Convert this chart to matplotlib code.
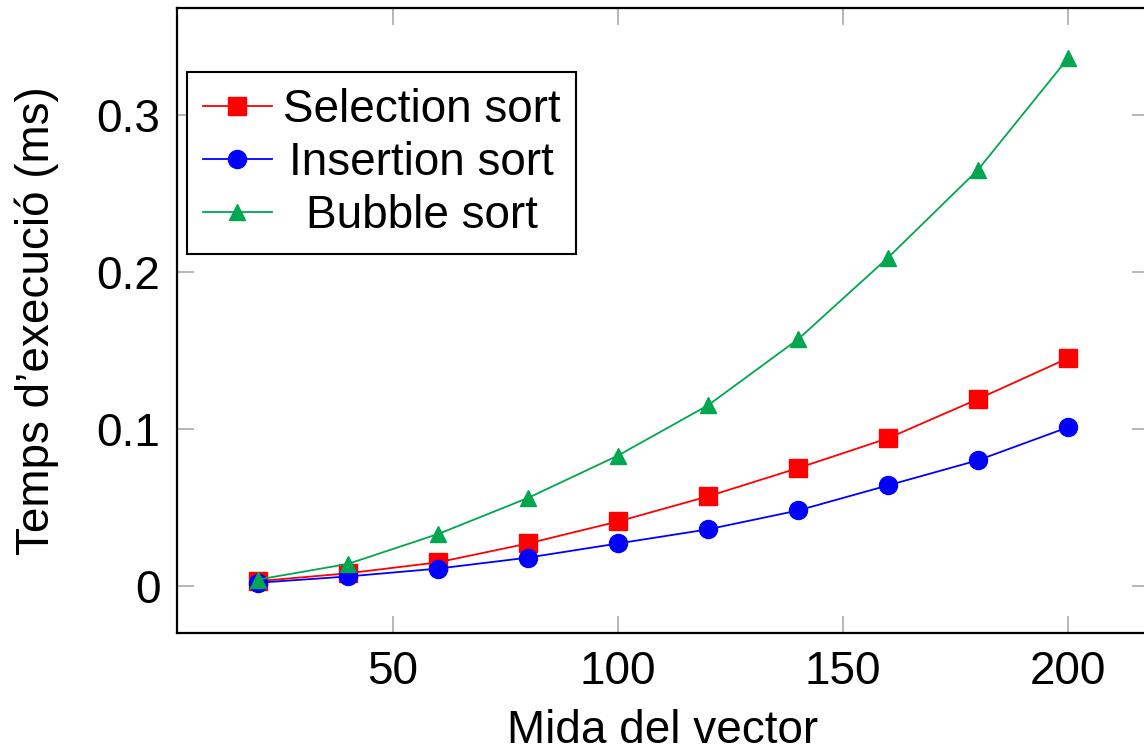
import matplotlib.pyplot as plt
from matplotlib.ticker import FuncFormatter

plt.rcParams['font.family'] = ['Liberation Sans', 'DejaVu Sans']

# Mida del vector
sizes = [20, 40, 60, 80, 100, 120, 140, 160, 180, 200]
selection = [0.003, 0.008, 0.015, 0.027, 0.041, 0.057, 0.075, 0.094, 0.119, 0.145]
insertion = [0.002, 0.006, 0.011, 0.018, 0.027, 0.036, 0.048, 0.064, 0.080, 0.101]
bubble = [0.004, 0.014, 0.033, 0.056, 0.083, 0.115, 0.157, 0.209, 0.265, 0.336]

x_ticks = [50, 100, 150, 200]
y_ticks = [0, 0.1, 0.2, 0.3]

fs = 33

fig = plt.figure(figsize=(11.44, 7.49), dpi=100)
ax = fig.add_axes([0.1547, 0.1549, 0.8497, 0.8344])

ax.plot(sizes, selection, color='#ff0000', marker='s', markersize=12.5, lw=1.3,
        label='Selection sort')
ax.plot(sizes, insertion, color='#0000ff', marker='o', markersize=13, lw=1.3,
        label='Insertion sort')
ax.plot(sizes, bubble, color='#00a650', marker='^', markersize=12, lw=1.3,
        label='Bubble sort')

ax.set_xlim(2, 218)
ax.set_ylim(-0.030, 0.368)
ax.set_xticks(x_ticks)
ax.set_yticks(y_ticks)
ax.yaxis.set_major_formatter(FuncFormatter(lambda v, p: '0' if v == 0 else f'{v:g}'))

ax.tick_params(direction='in', length=12, width=1.2, color='#aaaaaa',
               top=True, right=True, labelsize=fs, pad=12)
for s in ax.spines.values():
    s.set_linewidth(1.6)
    s.set_color('black')

ax.set_xlabel('Mida del vector', fontsize=fs, labelpad=11)
ax.set_ylabel('Temps d’execució (ms)', fontsize=fs, labelpad=27)

leg = ax.legend(loc='upper left', bbox_to_anchor=(0.0103, 0.8976), fontsize=fs,
                frameon=True, fancybox=False, edgecolor='black', framealpha=1,
                handlelength=1.5, handletextpad=0.24, labelspacing=0.2,
                borderpad=0.35, borderaxespad=0)
leg.get_frame().set_linewidth(1.5)

# centre the legend labels like pgfplots does
fig.canvas.draw()
r = fig.canvas.get_renderer()
texts = leg.get_texts()
widths = [t.get_window_extent(r).width for t in texts]
wmax = max(widths)
for t, w in zip(texts, widths):
    t.set_x((wmax - w) / 2)

fig.savefig('out.png', dpi=100)
